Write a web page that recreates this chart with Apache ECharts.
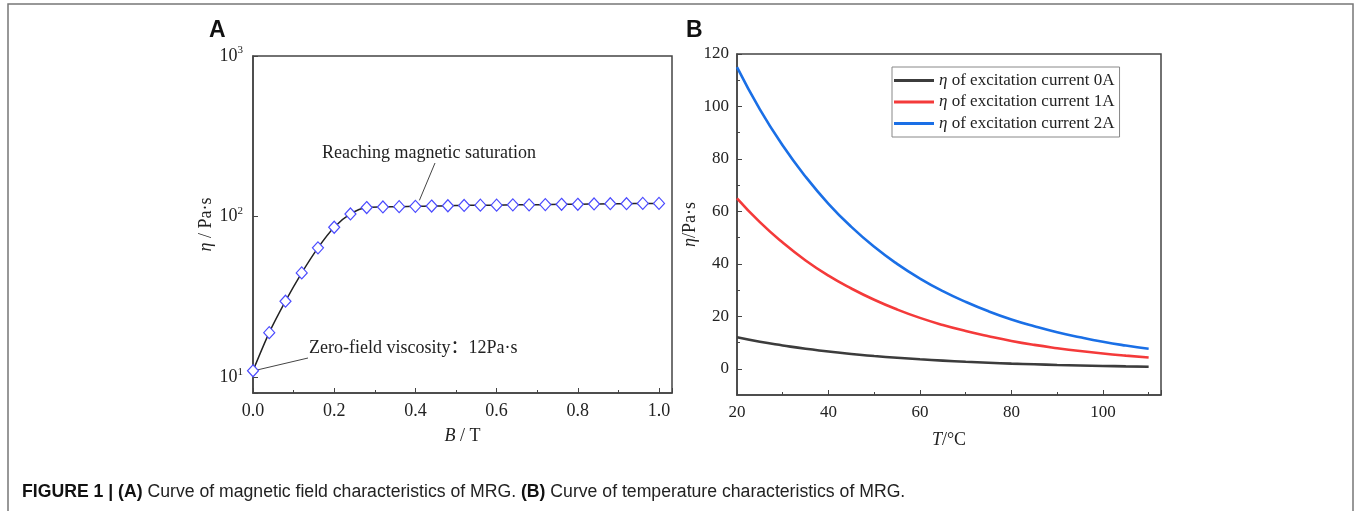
<!DOCTYPE html>
<html>
<head>
<meta charset="utf-8">
<script src="https://cdn.jsdelivr.net/npm/echarts@6/dist/echarts.min.js"></script>
<style>
html, body { margin: 0; padding: 0; background: #fff; }
#chart { width: 1356px; height: 511px; }
</style>
</head>
<body>
<div id="chart"></div>
<script>
// panel A: viscosity vs magnetic flux density (log scale)
const fieldB = [0, 0.04, 0.08, 0.12, 0.16, 0.2, 0.24, 0.28, 0.32, 0.36, 0.4, 0.44, 0.48, 0.52, 0.56, 0.6, 0.64, 0.68, 0.72, 0.76, 0.8, 0.84, 0.88, 0.92, 0.96, 1.0]
const etaField = [11, 19, 29.8, 44.7, 64, 86, 104, 114, 115, 115.5, 116, 116.5, 117, 117.5, 118, 118, 118.5, 118.5, 119, 119.5, 119.5, 120, 120.5, 120.5, 121, 121]

// panel B: viscosity vs temperature for 3 excitation currents
const tempT = [20, 25, 30, 35, 40, 45, 50, 55, 60, 65, 70, 75, 80, 85, 90, 95, 100, 105, 110]
const eta0A = [12, 10.3, 8.9, 7.6, 6.6, 5.6, 4.85, 4.2, 3.6, 3.1, 2.65, 2.3, 1.96, 1.7, 1.45, 1.25, 1.07, 0.92, 0.79]
const eta1A = [65, 55.9, 48.1, 41.3, 35.5, 30.6, 26.3, 22.6, 19.4, 16.7, 14.4, 12.4, 10.6, 9.1, 7.85, 6.75, 5.8, 5.0, 4.3]
const eta2A = [115, 98.9, 85.1, 73.2, 62.9, 54.1, 46.5, 40.0, 34.4, 29.6, 25.5, 21.9, 18.8, 16.2, 13.9, 12.0, 10.3, 8.86, 7.6]
const seriesNames = ['η of excitation current 0A', 'η of excitation current 1A', 'η of excitation current 2A']
const seriesColors = ['#3c3c3c', '#f43a3a', '#1a6fe6']

// tick labels
const ticksYB = [0, 20, 40, 60, 80, 100, 120]
const minorYB = [10, 30, 50, 70, 90, 110]

const serif = "'Liberation Serif', 'Times New Roman', serif"
const axisColor = '#444'

const chart = echarts.init(document.getElementById('chart'))

const pair = (xs, ys) => xs.map((x, i) => [x, ys[i]])

const etaRich = {
  i: { fontFamily: serif, fontStyle: 'italic', fontSize: 18, color: '#222' },
  n: { fontFamily: serif, fontSize: 18, color: '#222' }
}

chart.setOption({
  animation: false,
  grid: [
    { left: 253, top: 56, width: 419, height: 337, show: true, borderColor: axisColor, borderWidth: 1.5 },
    { left: 737, top: 54, width: 424, height: 341, show: true, borderColor: axisColor, borderWidth: 1.5 }
  ],
  xAxis: [
    {
      gridIndex: 0, type: 'value', min: 0, max: 1.032, interval: 0.2,
      name: '{i|B}{n| / T}', nameLocation: 'middle', nameGap: 34,
      nameTextStyle: { rich: etaRich },
      axisLine: { onZero: false, lineStyle: { color: axisColor, width: 1.5 } },
      axisTick: { inside: true, length: 5, lineStyle: { color: axisColor } },
      minorTick: { show: true, splitNumber: 2, length: 3, lineStyle: { color: axisColor } },
      axisLabel: { showMaxLabel: false, fontFamily: serif, fontSize: 18, color: '#222', margin: 9,
        formatter: v => v.toFixed(1) },
      splitLine: { show: false }
    },
    {
      gridIndex: 1, type: 'value', min: 20, max: 112.7, interval: 20,
      name: '{i|T}{n|/°C}', nameLocation: 'middle', nameGap: 36,
      nameTextStyle: { rich: etaRich },
      axisLine: { onZero: false, lineStyle: { color: axisColor, width: 1.5 } },
      axisTick: { inside: true, length: 5, lineStyle: { color: axisColor } },
      minorTick: { show: true, splitNumber: 2, length: 3, lineStyle: { color: axisColor } },
      axisLabel: { showMaxLabel: false, fontFamily: serif, fontSize: 17, color: '#222', margin: 9 },
      splitLine: { show: false }
    }
  ],
  yAxis: [
    {
      gridIndex: 0, type: 'log', logBase: 10, min: 8, max: 1000,
      name: '{i|η}{n| / Pa·s}', nameLocation: 'middle', nameGap: 38,
      nameTextStyle: { rich: etaRich },
      axisLine: { show: true, onZero: false, lineStyle: { color: axisColor, width: 1.5 } },
      axisTick: { inside: true, length: 5, lineStyle: { color: axisColor } },
      axisLabel: {
        fontFamily: serif, color: '#222', margin: 10,
        formatter: v => {
          const e = Math.log10(v)
          if (Math.abs(e - Math.round(e)) > 1e-6) return ''
          return '{b|10}{s|' + Math.round(e) + '}'
        },
        rich: {
          b: { fontFamily: serif, fontSize: 18, color: '#222', lineHeight: 22 },
          s: { fontFamily: serif, fontSize: 11, color: '#222', verticalAlign: 'top', lineHeight: 22 }
        }
      },
      splitLine: { show: false }
    },
    {
      gridIndex: 1, type: 'value', min: -10, max: 120,
      name: '{i|η}{n|/Pa·s}', nameLocation: 'middle', nameGap: 38,
      nameTextStyle: { rich: etaRich },
      axisLine: { show: true, onZero: false, lineStyle: { color: axisColor, width: 1.5 } },
      axisTick: { inside: true, length: 5, customValues: ticksYB, lineStyle: { color: axisColor } },
      axisLabel: { customValues: ticksYB, fontFamily: serif, fontSize: 17, color: '#222', margin: 8 },
      splitLine: { show: false }
    },
    {
      gridIndex: 1, type: 'value', min: -10, max: 120, position: 'left',
      axisLine: { show: false, onZero: false },
      axisTick: { show: true, inside: true, length: 3, customValues: minorYB, lineStyle: { color: axisColor } },
      axisLabel: { show: false },
      splitLine: { show: false }
    }
  ],
  legend: {
    left: 892, top: 67, orient: 'vertical',
    data: seriesNames,
    icon: 'rect',
    itemWidth: 40, itemHeight: 3, itemGap: 4.5,
    borderColor: '#888', borderWidth: 1, borderRadius: 0,
    padding: [5, 5, 5, 2],
    formatter: name => '{i|η}{n|' + name.slice(1) + '}',
    textStyle: {
      rich: {
        i: { fontFamily: serif, fontStyle: 'italic', fontSize: 17, color: '#222', lineHeight: 19 },
        n: { fontFamily: serif, fontSize: 17, color: '#222', lineHeight: 19 }
      }
    }
  },
  series: [
    {
      type: 'line', xAxisIndex: 0, yAxisIndex: 0,
      data: pair(fieldB, etaField),
      smooth: 0.3,
      symbol: 'diamond', symbolSize: [11, 12],
      lineStyle: { color: '#222', width: 1.5 },
      itemStyle: { color: '#fff', borderColor: '#4b4bff', borderWidth: 1.2 },
      z: 3
    },
    ...[eta0A, eta1A, eta2A].map((d, k) => ({
      name: seriesNames[k],
      type: 'line', xAxisIndex: 1, yAxisIndex: 1,
      data: pair(tempT, d),
      smooth: true, symbol: 'none',
      lineStyle: { color: seriesColors[k], width: 2.6 },
      itemStyle: { color: seriesColors[k] }
    }))
  ]
})

// annotations, leader lines anchored on data points
const pZero = chart.convertToPixel({ gridIndex: 0 }, [fieldB[0], etaField[0]])
const pSat = chart.convertToPixel({ gridIndex: 0 }, [fieldB[10], etaField[10]])
const captionFont = "'Liberation Sans', Arial, sans-serif"

chart.setOption({
  graphic: [
    { type: 'rect', shape: { x: 8, y: 4, width: 1345, height: 520 }, style: { fill: 'none', stroke: '#777', lineWidth: 1.5 }, silent: true },
    { type: 'text', left: 209, top: 19, style: { text: 'A', font: "bold 23px 'Liberation Sans', Arial, sans-serif", fill: '#111' } },
    { type: 'text', left: 686, top: 19, style: { text: 'B', font: "bold 23px 'Liberation Sans', Arial, sans-serif", fill: '#111' } },
    { type: 'text', x: 322, y: 153, style: { text: 'Reaching magnetic saturation', font: '18px ' + serif, fill: '#222', textVerticalAlign: 'middle' } },
    { type: 'line', shape: { x1: 435, y1: 163, x2: pSat[0] + 4, y2: pSat[1] - 6 }, style: { stroke: '#444', lineWidth: 1 } },
    { type: 'text', x: 309, y: 348, style: { text: 'Zero-field viscosity：12Pa·s', font: "18px 'Liberation Serif', 'Noto Sans CJK SC', serif", fill: '#222', textVerticalAlign: 'middle' } },
    { type: 'line', shape: { x1: 308, y1: 358, x2: pZero[0] + 5, y2: pZero[1] - 1 }, style: { stroke: '#444', lineWidth: 1 } },
    {
      type: 'text', x: 22, y: 492, scaleX: 0.98,
      style: {
        text: '{b|FIGURE 1 | (A)}{n| Curve of magnetic field characteristics of MRG. }{b|(B)}{n| Curve of temperature characteristics of MRG.}',
        textVerticalAlign: 'middle',
        rich: {
          b: { fontFamily: captionFont, fontWeight: 'bold', fontSize: 18, fill: '#111' },
          n: { fontFamily: captionFont, fontSize: 18, fill: '#222' }
        }
      }
    }
  ]
})
</script>
</body>
</html>
